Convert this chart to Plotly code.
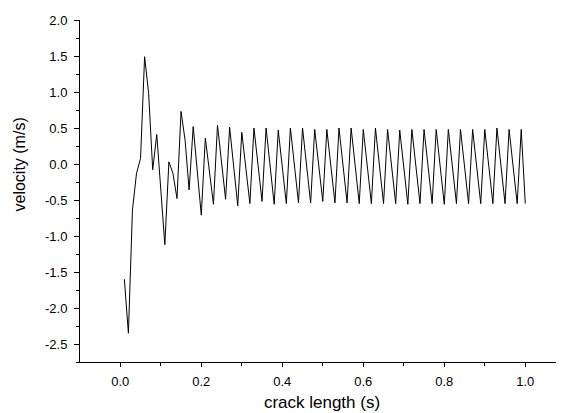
import plotly.graph_objects as go

crack_length = [
    0.01, 0.02, 0.03, 0.04, 0.05, 0.06, 0.07, 0.08, 0.09, 0.10,
    0.11, 0.12, 0.13, 0.14, 0.15, 0.16, 0.17, 0.18, 0.19, 0.20,
    0.21, 0.22, 0.23, 0.24, 0.25, 0.26, 0.27, 0.28, 0.29, 0.30,
    0.31, 0.32, 0.33, 0.34, 0.35, 0.36, 0.37, 0.38, 0.39, 0.40,
    0.41, 0.42, 0.43, 0.44, 0.45, 0.46, 0.47, 0.48, 0.49, 0.50,
    0.51, 0.52, 0.53, 0.54, 0.55, 0.56, 0.57, 0.58, 0.59, 0.60,
    0.61, 0.62, 0.63, 0.64, 0.65, 0.66, 0.67, 0.68, 0.69, 0.70,
    0.71, 0.72, 0.73, 0.74, 0.75, 0.76, 0.77, 0.78, 0.79, 0.80,
    0.81, 0.82, 0.83, 0.84, 0.85, 0.86, 0.87, 0.88, 0.89, 0.90,
    0.91, 0.92, 0.93, 0.94, 0.95, 0.96, 0.97, 0.98, 0.99, 1.00,
]

velocity = [
    -1.60, -2.35, -0.64, -0.13, 0.08, 1.49, 0.98, -0.08, 0.41, -0.36,
    -1.12, 0.03, -0.13, -0.48, 0.73, 0.33, -0.36, 0.52, -0.10, -0.71,
    0.36, -0.10, -0.56, 0.54, 0.02, -0.49, 0.51, -0.04, -0.58, 0.44,
    -0.05, -0.55, 0.50, -0.01, -0.52, 0.50, -0.03, -0.56, 0.47, -0.04,
    -0.55, 0.50, -0.02, -0.54, 0.50, -0.02, -0.54, 0.48, -0.02, -0.52,
    0.48, -0.03, -0.54, 0.50, -0.02, -0.54, 0.50, -0.03, -0.55, 0.48,
    -0.04, -0.55, 0.50, -0.03, -0.55, 0.48, -0.04, -0.55, 0.47, -0.05,
    -0.56, 0.48, -0.04, -0.55, 0.48, -0.04, -0.55, 0.48, -0.04, -0.56,
    0.48, -0.04, -0.55, 0.48, -0.04, -0.55, 0.48, -0.04, -0.55, 0.48,
    -0.04, -0.55, 0.50, -0.03, -0.55, 0.48, -0.04, -0.55, 0.48, -0.55,
]

x_tick_vals = [0.0, 0.2, 0.4, 0.6, 0.8, 1.0]
x_tick_text = ["0.0", "0.2", "0.4", "0.6", "0.8", "1.0"]
y_tick_vals = [2.0, 1.5, 1.0, 0.5, 0.0, -0.5, -1.0, -1.5, -2.0, -2.5]
y_tick_text = ["2.0", "1.5", "1.0", "0.5", "0.0", "-0.5", "-1.0", "-1.5", "-2.0", "-2.5"]
x_title = "crack length (s)"
y_title = "velocity (m/s)"

fig = go.Figure()
fig.add_trace(go.Scatter(
    x=crack_length, y=velocity, mode="lines",
    line=dict(color="black", width=1), showlegend=False,
))

font_family = "Liberation Sans, Arial, sans-serif"
# the page body has an 8px default margin, so the figure is sized to fit inside it
fig.update_layout(
    width=556, height=405,
    margin=dict(l=72, r=0, t=12, b=51),
    paper_bgcolor="white", plot_bgcolor="white",
    font=dict(family=font_family, color="black", size=13),
    xaxis=dict(
        range=[-0.0995, 1.0956],
        tickmode="array", tickvals=x_tick_vals, ticktext=x_tick_text,
        ticks="outside", ticklen=4, tickwidth=1, tickcolor="black",
        ticklabelstandoff=3,
        minor=dict(dtick=0.1, tick0=0, ticks="outside", ticklen=3, tickcolor="black"),
        showline=True, linecolor="black", linewidth=1,
        showgrid=False, zeroline=False,
        tickfont=dict(size=13),
        title=dict(text=x_title, font=dict(size=17), standoff=8),
    ),
    yaxis=dict(
        range=[-2.75, 2.0],
        tickmode="array", tickvals=y_tick_vals, ticktext=y_tick_text,
        ticks="outside", ticklen=5, tickwidth=1, tickcolor="black",
        ticklabelstandoff=4,
        minor=dict(dtick=0.25, tick0=0, ticks="outside", ticklen=3, tickcolor="black"),
        showline=True, linecolor="black", linewidth=1,
        showgrid=False, zeroline=False,
        tickfont=dict(size=13),
    ),
    annotations=[dict(
        text=y_title, textangle=-90, showarrow=False,
        xref="paper", yref="paper", x=-0.126, y=0.5775,
        xanchor="center", yanchor="middle",
        font=dict(size=16, family=font_family, color="black"),
    )],
)

fig.write_html("out.html")
